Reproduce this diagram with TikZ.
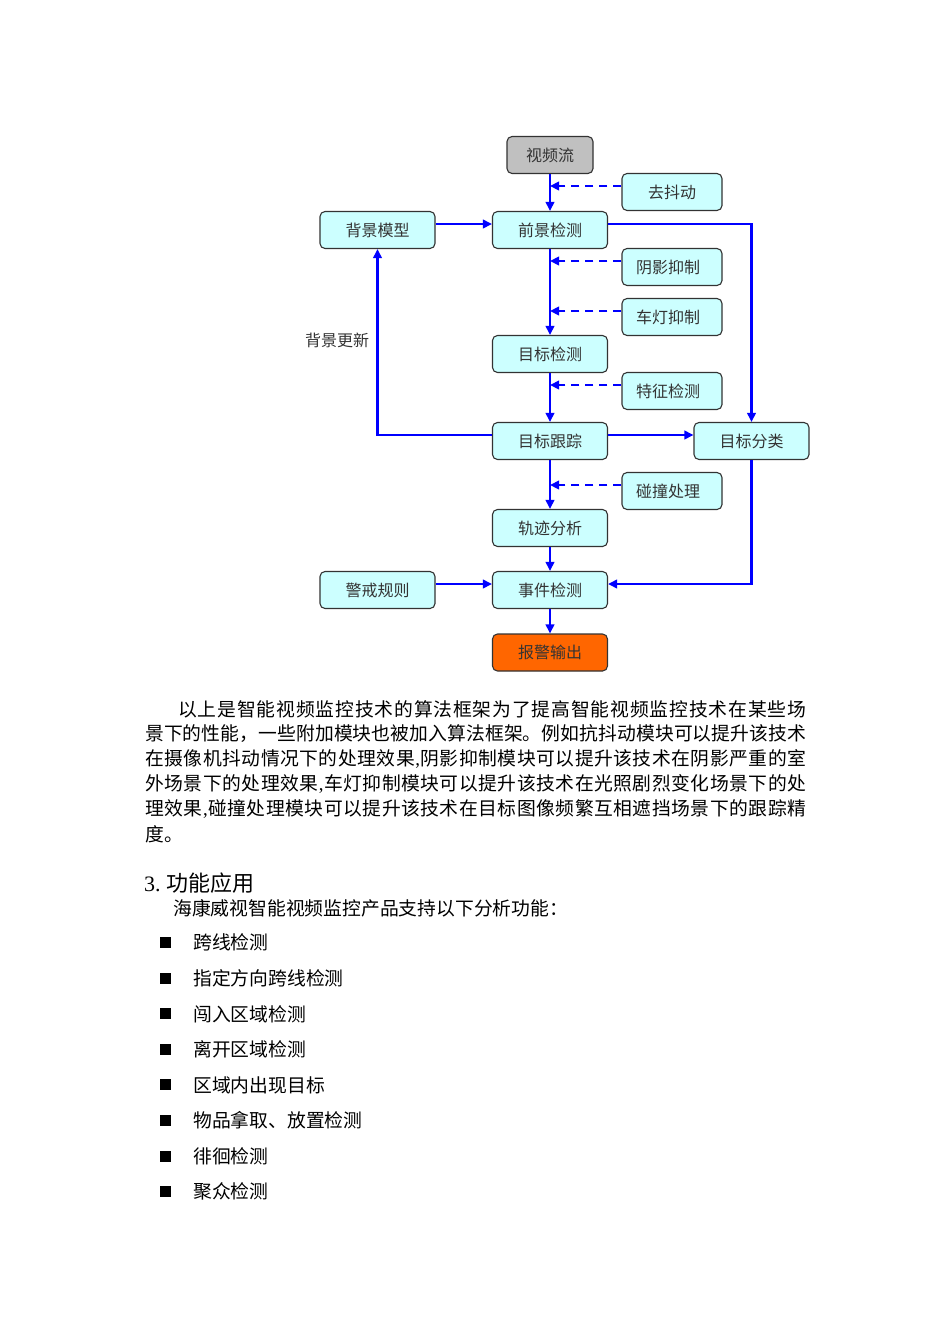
\documentclass[tikz,border=0pt]{standalone}
\usepackage{fontspec}
\setmainfont{Liberation Serif}
\newfontfamily\cjk{Noto Sans CJK SC}
\usetikzlibrary{arrows.meta,positioning}
\definecolor{boxfill}{HTML}{CCFFFF}
\definecolor{boxline}{HTML}{333333}
\definecolor{boxtext}{HTML}{333333}
\definecolor{arrblue}{HTML}{0000FF}
\definecolor{grayfill}{HTML}{C0C0C0}
\definecolor{orangefill}{HTML}{FF6600}
\newcommand\latcomma{{\rmfamily,}}
\def\spreadfirst#1{#1\spreadrest}
\def\spreadrest#1{\ifx#1\relax\else\hskip0pt plus 1fil #1\expandafter\spreadrest\fi}
\newcommand\spreadline[2]{\hbox to #1{\spreadfirst#2\relax}}
\tikzset{
  box/.style={draw=boxline, line width=1.1pt, rounded corners=5pt, fill=boxfill,
    text=boxtext, font=\cjk\fontsize{16}{16}\selectfont, inner sep=0pt,
    minimum width=115pt, minimum height=37pt},
  auxbox/.style={box, minimum width=100pt},
  arr/.style={draw=arrblue, line width=2.2pt, -{Triangle[length=9pt,width=8.5pt]}},
  darr/.style={arr, dash pattern=on 8pt off 6pt},
  bodytext/.style={font=\cjk\fontsize{18.8}{18.8}\selectfont, inner sep=0pt, anchor=west, text=black},
  bullet/.style={fill=black, inner sep=0pt, minimum size=11pt},
  lbl/.style={font=\cjk\fontsize{16}{16}\selectfont, text=boxtext, inner sep=0pt}
}
\begin{document}
\begin{tikzpicture}[x=1pt,y=-1pt]
\useasboundingbox (0,0) rectangle (950,1344);
\fill[white] (0,0) rectangle (950,1344);
% nodes
\node[box, minimum width=86pt, fill=grayfill] (spl) at (550,155) {视频流};
\node[auxbox] (qdd) at (672,192) {去抖动};
\node[box] (bjmx) at (377.5,230) {背景模型};
\node[box] (qjjc) at (550,230) {前景检测};
\node[auxbox] (yyyz) at (672,267) {\hspace*{-8pt}阴影抑制};
\node[auxbox] (cdyz) at (672,317) {\hspace*{-8pt}车灯抑制};
\node[box] (mbjc) at (550,354) {目标检测};
\node[auxbox] (tzjc) at (672,391) {\hspace*{-8pt}特征检测};
\node[box] (mbgz) at (550,441) {目标跟踪};
\node[box] (mbfl) at (751.5,441) {目标分类};
\node[auxbox] (pzcl) at (672,491) {\hspace*{-8pt}碰撞处理};
\node[box] (gjfx) at (550,528) {轨迹分析};
\node[box] (jjgz) at (377.5,590) {警戒规则};
\node[box] (sjjc) at (550,590) {事件检测};
\node[box, fill=orangefill] (bjsc) at (550,652.5) {报警输出};
\node[lbl] (bjgx) at (337,340) {背景更新};
% connectors
\draw[arr] (spl) -- (qjjc);
\draw[darr] ([yshift=6pt]qdd.west) -- ([yshift=6pt]qdd.west -| spl.south);
\draw[arr] ([yshift=6pt]bjmx.east) -- ([yshift=6pt]qjjc.west);
\draw[arr] (qjjc) -- (mbjc);
\draw[darr] ([yshift=6pt]yyyz.west) -- ([yshift=6pt]yyyz.west -| qjjc.south);
\draw[darr] ([yshift=6pt]cdyz.west) -- ([yshift=6pt]cdyz.west -| qjjc.south);
\draw[arr] (mbjc) -- (mbgz);
\draw[darr] ([yshift=6pt]tzjc.west) -- ([yshift=6pt]tzjc.west -| mbjc.south);
\draw[arr] (mbgz) -- (gjfx);
\draw[darr] ([yshift=6pt]pzcl.west) -- ([yshift=6pt]pzcl.west -| mbgz.south);
\draw[arr] (gjfx) -- (sjjc);
\draw[arr] (sjjc) -- (bjsc);
\draw[arr] ([yshift=6pt]jjgz.east) -- ([yshift=6pt]sjjc.west);
\draw[arr] ([yshift=6pt]qjjc.east) -| (mbfl.north);
\draw[arr] ([yshift=6pt]mbgz.east) -- ([yshift=6pt]mbfl.west);
\draw[arr] (mbfl.south) |- ([yshift=6pt]sjjc.east);
\draw[arr] ([yshift=6pt]mbgz.west) -| (bjmx.south);
% paragraph
\node[bodytext] (p1) at (178,709) {\spreadline{628pt}{以上是智能视频监控技术的算法框架为了提高智能视频监控技术在某些场}};
\node[bodytext] (p2) at (145,734) {\spreadline{661pt}{景下的性能，一些附加模块也被加入算法框架。例如抗抖动模块可以提升该技术}};
\node[bodytext] (p3) at (145,759) {\spreadline{661pt}{在摄像机抖动情况下的处理效果\latcomma 阴影抑制模块可以提升该技术在阴影严重的室}};
\node[bodytext] (p4) at (145,784) {\spreadline{661pt}{外场景下的处理效果\latcomma 车灯抑制模块可以提升该技术在光照剧烈变化场景下的处}};
\node[bodytext] (p5) at (145,809) {\spreadline{661pt}{理效果\latcomma 碰撞处理模块可以提升该技术在目标图像频繁互相遮挡场景下的跟踪精}};
\node[bodytext] (p6) at (145,834) {度。};
% heading
\node[bodytext, font=\fontsize{22}{22}\selectfont] (h3) at (144,883) {3.\hspace{6pt}{\cjk 功能应用}};
\node[bodytext] (intro) at (173,908) {海康威视智能视频监控产品支持以下分析功能：};
% bullets
\foreach \i/\t in {0/跨线检测,1/指定方向跨线检测,2/闯入区域检测,3/离开区域检测,4/区域内出现目标,5/物品拿取、放置检测,6/徘徊检测,7/聚众检测}{
  \node[bullet] (b\i) at (165.5,942.7+35.57*\i) {};
  \node[bodytext] (t\i) at (193,942.7+35.57*\i) {\t};
}
\end{tikzpicture}
\end{document}
